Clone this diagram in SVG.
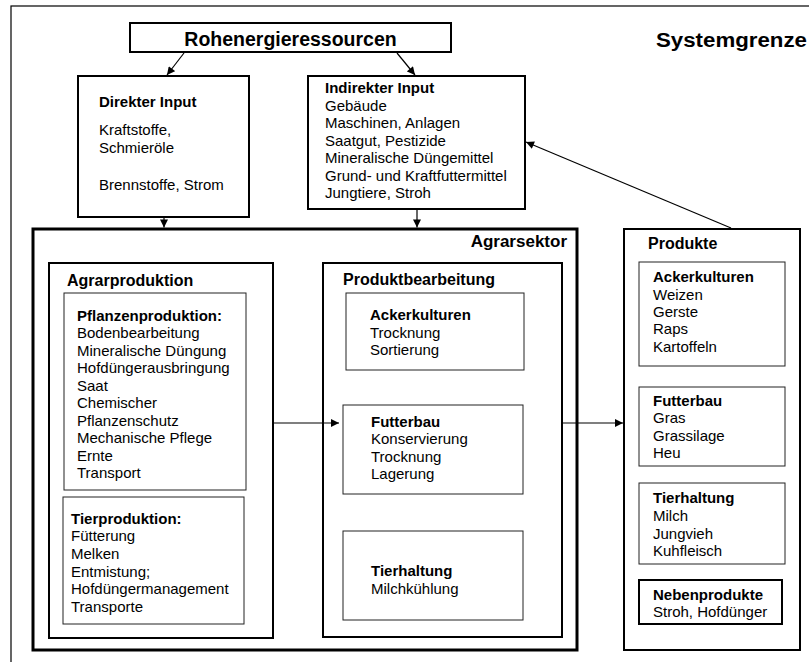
<svg xmlns="http://www.w3.org/2000/svg" width="809" height="662" viewBox="0 0 809 662">
<style>
  .box{fill:#fff;stroke:#000}
  .w1{stroke-width:1;stroke:#222}
  .w2{stroke-width:2}
  .w3{stroke-width:3}
  text{font-family:"Liberation Sans",Arial,Helvetica,sans-serif;font-size:15px;fill:#000}
  .b{font-weight:bold}
  .h{font-weight:bold;font-size:16px}
  .conn line{stroke:#000;stroke-width:1.2;marker-end:url(#ah)}
</style>
<defs>
  <marker id="ah" viewBox="0 0 10 10" refX="10" refY="5" markerWidth="9" markerHeight="8" markerUnits="userSpaceOnUse" orient="auto">
    <path d="M0,0 L10,5 L0,10 z" fill="#000"/>
  </marker>
</defs>
<rect width="809" height="662" fill="#fff"/>

<g id="systemgrenze">
  <rect x="11" y="6" width="900" height="700" fill="none" stroke="#000" stroke-width="1.2"/>
  <text x="656" y="47" class="b" font-size="20" textLength="151" lengthAdjust="spacingAndGlyphs" style="font-size:20px">Systemgrenze</text>
</g>

<g id="rohenergieressourcen">
  <rect class="box w2" x="130" y="23" width="321" height="29"/>
  <text x="290.5" y="46" class="b" text-anchor="middle" style="font-size:19.5px">Rohenergieressourcen</text>
</g>

<g id="direkter-input">
  <rect class="box w2" x="78" y="76" width="171" height="141"/>
  <text x="99" y="107" class="b">Direkter Input</text>
  <text x="99" y="135">Kraftstoffe,</text>
  <text x="99" y="153">Schmieröle</text>
  <text x="99" y="190">Brennstoffe, Strom</text>
</g>

<g id="indirekter-input">
  <rect class="box w2" x="308" y="76" width="217" height="133"/>
  <text x="325" y="93" class="b">Indirekter Input</text>
  <text x="325" y="111">Gebäude</text>
  <text x="325" y="128">Maschinen, Anlagen</text>
  <text x="325" y="145.5">Saatgut, Pestizide</text>
  <text x="325" y="163">Mineralische Düngemittel</text>
  <text x="325" y="180.5">Grund- und Kraftfuttermittel</text>
  <text x="325" y="198">Jungtiere, Stroh</text>
</g>

<g id="agrarsektor">
  <rect class="box w3" x="33" y="229" width="544" height="421"/>
  <text x="567" y="247" class="b" text-anchor="end" style="font-size:17px">Agrarsektor</text>
</g>

<g id="agrarproduktion">
  <rect class="box w2" x="49" y="263" width="224" height="375"/>
  <text x="67" y="285.5" class="h">Agrarproduktion</text>
</g>

<g id="pflanzenproduktion">
  <rect class="box w1" x="64" y="293" width="182" height="197"/>
  <text x="77" y="320.5" class="b">Pflanzenproduktion:</text>
  <text x="77" y="338">Bodenbearbeitung</text>
  <text x="77" y="355.5">Mineralische Düngung</text>
  <text x="77" y="373">Hofdüngerausbringung</text>
  <text x="77" y="390.5">Saat</text>
  <text x="77" y="408">Chemischer</text>
  <text x="77" y="425.5">Pflanzenschutz</text>
  <text x="77" y="443">Mechanische Pflege</text>
  <text x="77" y="460.5">Ernte</text>
  <text x="77" y="478">Transport</text>
</g>

<g id="tierproduktion">
  <rect class="box w1" x="63" y="497" width="181" height="127"/>
  <text x="71" y="523.5" class="b">Tierproduktion:</text>
  <text x="71" y="541">Fütterung</text>
  <text x="71" y="558.5">Melken</text>
  <text x="71" y="576.5">Entmistung;</text>
  <text x="71" y="594">Hofdüngermanagement</text>
  <text x="71" y="611.5">Transporte</text>
</g>

<g id="produktbearbeitung">
  <rect class="box w2" x="323" y="263" width="239" height="374"/>
  <text x="343" y="285" class="h">Produktbearbeitung</text>
</g>

<g id="pb-ackerkulturen">
  <rect class="box w1" x="346" y="293" width="178" height="77"/>
  <text x="370" y="320" class="b">Ackerkulturen</text>
  <text x="370" y="337.5">Trocknung</text>
  <text x="370" y="355">Sortierung</text>
</g>

<g id="pb-futterbau">
  <rect class="box w1" x="343" y="405" width="180" height="89"/>
  <text x="371" y="426.5" class="b">Futterbau</text>
  <text x="371" y="444">Konservierung</text>
  <text x="371" y="461.5">Trocknung</text>
  <text x="371" y="479">Lagerung</text>
</g>

<g id="pb-tierhaltung">
  <rect class="box w1" x="343" y="531" width="180" height="89"/>
  <text x="371" y="576" class="b">Tierhaltung</text>
  <text x="371" y="593.5">Milchkühlung</text>
</g>

<g id="produkte">
  <rect class="box w2" x="624" y="229" width="176" height="421"/>
  <text x="648" y="248.5" class="h">Produkte</text>
</g>

<g id="p-ackerkulturen">
  <rect class="box w1" x="639" y="262" width="146" height="104"/>
  <text x="653" y="282" class="b">Ackerkulturen</text>
  <text x="653" y="299.5">Weizen</text>
  <text x="653" y="317">Gerste</text>
  <text x="653" y="334">Raps</text>
  <text x="653" y="351.5">Kartoffeln</text>
</g>

<g id="p-futterbau">
  <rect class="box w1" x="639" y="387" width="146" height="79"/>
  <text x="653" y="405.5" class="b">Futterbau</text>
  <text x="653" y="423">Gras</text>
  <text x="653" y="440.5">Grassilage</text>
  <text x="653" y="458">Heu</text>
</g>

<g id="p-tierhaltung">
  <rect class="box w1" x="639" y="483" width="146" height="81"/>
  <text x="653" y="503" class="b">Tierhaltung</text>
  <text x="653" y="521">Milch</text>
  <text x="653" y="538.5">Jungvieh</text>
  <text x="653" y="555.5">Kuhfleisch</text>
</g>

<g id="p-nebenprodukte">
  <rect class="box w2" x="639" y="580" width="143" height="44"/>
  <text x="653" y="599.5" class="b">Nebenprodukte</text>
  <text x="653" y="617">Stroh, Hofdünger</text>
</g>

<g id="connectors" class="conn">
  <line x1="184" y1="53" x2="167" y2="75"/>
  <line x1="397" y1="53" x2="415" y2="75"/>
  <line x1="164" y1="218" x2="164" y2="227.5"/>
  <line x1="417" y1="210" x2="417" y2="227.5"/>
  <line x1="273" y1="423" x2="339" y2="423"/>
  <line x1="562" y1="423" x2="623" y2="423"/>
  <line x1="731" y1="228" x2="526" y2="142"/>
</g>
</svg>
